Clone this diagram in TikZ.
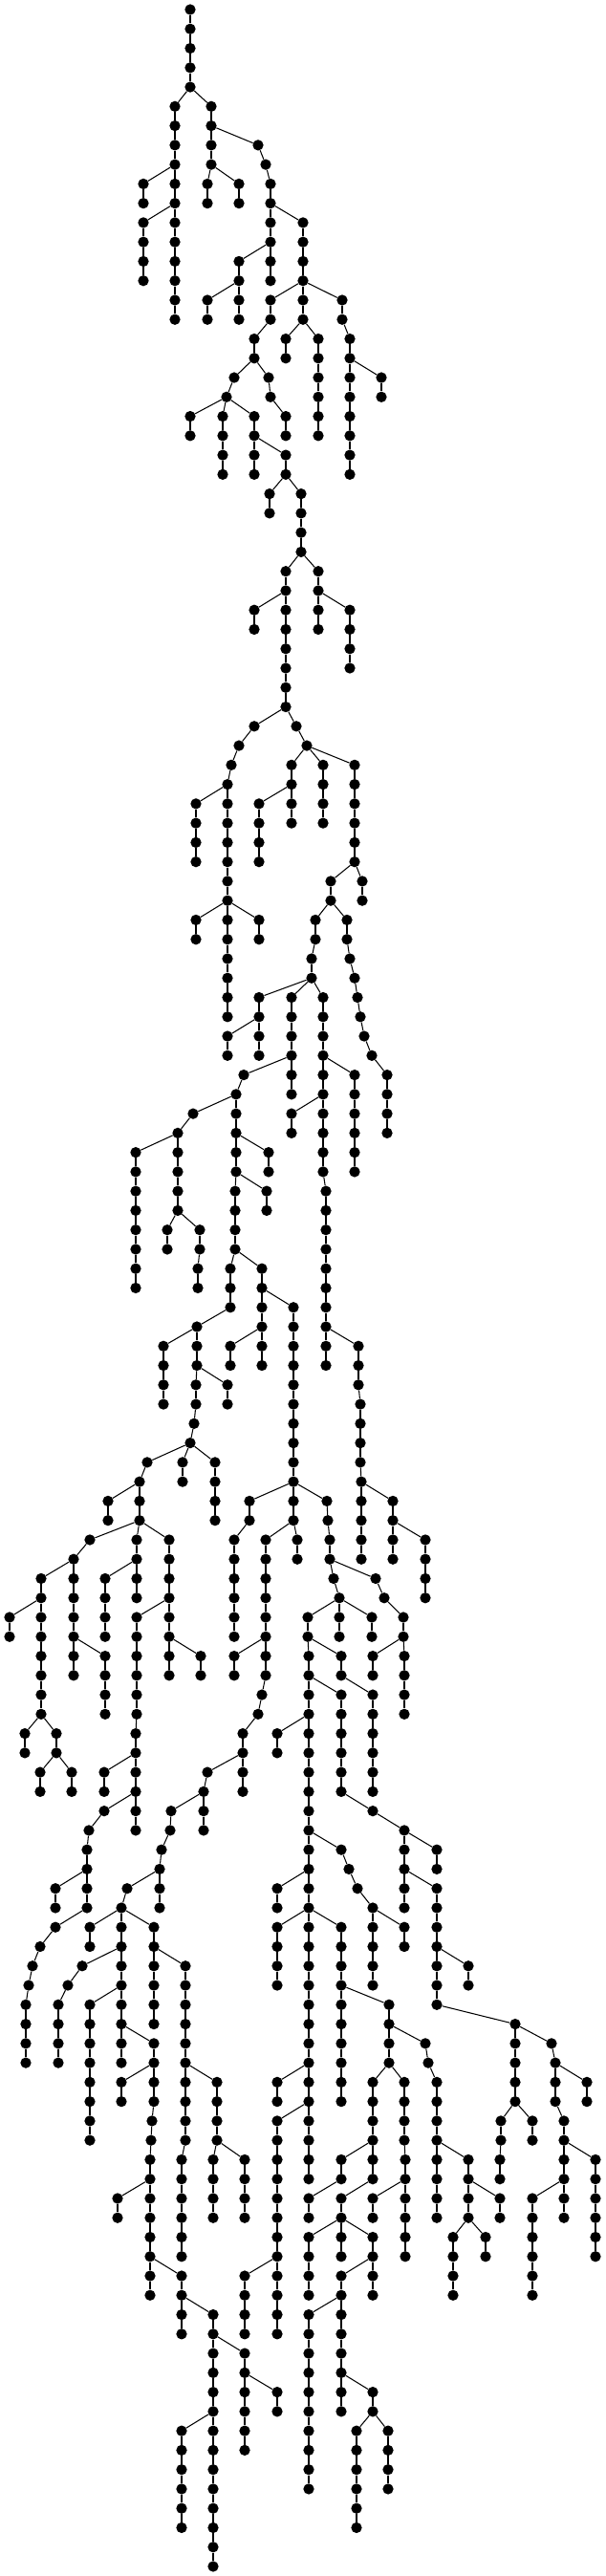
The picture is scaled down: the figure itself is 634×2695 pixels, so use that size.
\documentclass[tikz,border=0pt]{standalone}
\tikzset{
  dotnode/.style={circle,fill=black,draw=none,inner sep=0pt,minimum size=11.3pt},
  edgeline/.style={draw=black,line width=1.05pt}
}
% \ch{parent x}{first row}{x of each node on consecutive rows}: the parent is on the row above
\newcommand\ch[3]{%
  \foreach \x [remember=\x as \px (initially #1), count=\i from #2] in {#3}{%
    \pgfmathtruncatemacro\pr{\i-1}%
    \node[dotnode] (n\i x\x) at (\x,{-(10+20.265*\i)}) {};
    \draw[edgeline] (n\pr x\px) -- (n\i x\x);
  }%
}
\begin{document}
\begin{tikzpicture}[x=1pt,y=1pt]
\path[fill=white,use as bounding box] (0,0) rectangle (634,-2695);
\node[dotnode] (n0x199) at (199,-10) {};
\ch{199}{1}{199,199,199,199}
\ch{199}{5}{183,183,183,183,183,183,183,183,183,183,183,183}
\ch{183}{9}{150,150}
\ch{183}{11}{150,150,150,150}
\ch{199}{5}{221,221,221,221}
\ch{221}{9}{217,217}
\ch{221}{9}{250,250}
\ch{221}{7}{270,278,283,283,283,283,283,283}
\ch{283}{11}{317,317,317,317}
\ch{283}{13}{250,250}
\ch{250}{15}{217,217}
\ch{250}{15}{250,250}
\ch{317}{15}{283,283,266,266}
\ch{266}{19}{245,237}
\ch{237}{21}{199,199}
\ch{237}{21}{233,233,233,233}
\ch{237}{21}{266,266,266,266}
\ch{266}{19}{281,283,299,299}
\ch{266}{23}{299,299}
\ch{299}{25}{282,282}
\ch{299}{25}{315,315,315,315}
\ch{315}{29}{299,299,299,299,299,299,299,299}
\ch{299}{31}{266,266}
\ch{315}{29}{333,333,333,333}
\ch{333}{31}{366,366,366,366}
\ch{317}{15}{317,317}
\ch{317}{17}{299,299}
\ch{317}{17}{333,333,333,333,333,333}
\ch{317}{15}{358,358,366,366,366,366,366,366,366,366}
\ch{366}{19}{399,399}
\ch{299}{37}{266,250,242,238}
\ch{238}{41}{205,205,205,205}
\ch{238}{41}{238,238,238,238,238,238}
\ch{238}{47}{205,205}
\ch{238}{47}{271,271}
\ch{238}{47}{238,238,238,238,238,238}
\ch{299}{37}{310,321}
\ch{321}{39}{305,305,305,305}
\ch{305}{41}{271,271,271,271}
\ch{321}{39}{338,338,338,338}
\ch{321}{39}{371,371,371,371,371,371}
\ch{371}{45}{346,346}
\ch{371}{45}{379,379}
\ch{346}{47}{363,363,366,371,374,377,381,389,405,405,405,405}
\ch{346}{47}{330,330,326,326}
\ch{326}{51}{271,271,271,271}
\ch{271}{53}{238,238}
\ch{326}{51}{305,305,305,305,305,305}
\ch{305}{55}{255,247,247,247,247,247,246,246,246,246}
\ch{247}{57}{202,186,186,186,186,186}
\ch{186}{59}{142,142,142,142,142,142,142,142}
\ch{186}{63}{175,175}
\ch{186}{63}{209,209,207,207}
\ch{247}{59}{281,281}
\ch{247}{61}{279,279}
\ch{246}{65}{241,241,241}
\ch{241}{68}{206,206,206,205,205,203,199}
\ch{206}{69}{171,171,171,171}
\ch{206}{71}{238,238}
\ch{199}{75}{154,146,146,146}
\ch{146}{77}{113,113}
\ch{146}{79}{94,77,77,77,77,77,77,77}
\ch{77}{81}{43,43,43,43,43,43,43,43}
\ch{43}{83}{10,10}
\ch{43}{89}{26,26}
\ch{43}{89}{59,59}
\ch{59}{91}{42,42}
\ch{59}{91}{75,75}
\ch{77}{85}{110,110,110,110}
\ch{146}{79}{143,143,143,143}
\ch{143}{81}{110,110,110,110}
\ch{146}{79}{177,177,177,177,177,177,177,177}
\ch{177}{83}{143,143,143,143,143,143,142,142,142,142,142,142}
\ch{142}{91}{109,109}
\ch{142}{93}{109,93,91,91,91,91}
\ch{91}{97}{58,58}
\ch{91}{99}{58,42,34,30,27,27,27,27}
\ch{177}{85}{210,210}
\ch{199}{75}{191,191}
\ch{199}{75}{225,225,225,225}
\ch{246}{65}{274,274,274,274,274,274}
\ch{274}{67}{307,307,307,307,307,307,307,307,307,307}
\ch{274}{69}{241,241}
\ch{307}{77}{261,261,245,245,245,245,245,245}
\ch{307}{77}{307,307,311,311}
\ch{307}{79}{278,278,278,278,278,278}
\ch{278}{85}{245,245}
\ch{278}{85}{278,278,274,270,254,254,254,254}
\ch{254}{91}{217,213,213,213}
\ch{213}{93}{179,178,169,167,167,167}
\ch{167}{97}{133,127}
\ch{127}{99}{94,94}
\ch{127}{99}{127,127,127,127,127,127,127,127}
\ch{127}{101}{86,71,61,61,61,61}
\ch{127}{103}{94,94,94,94,94,94,94,94}
\ch{127}{105}{161,161}
\ch{161}{107}{127,127}
\ch{161}{107}{161,161,159,158,157,157,157,157,157,157,157,157}
\ch{157}{113}{123,123}
\ch{157}{117}{190,190}
\ch{190}{119}{190,190}
\ch{190}{119}{223,223,223,223,223,223,223,223,223,223,223,223,223,223}
\ch{223}{125}{190,190,190,190,190,190}
\ch{223}{121}{256,256,256,256,256,256}
\ch{256}{123}{290,290}
\ch{127}{99}{161,161,161,161,161,161}
\ch{161}{101}{194,194,194,194,194,194,194,194,194,194,190,190,190,190,190,190}
\ch{194}{107}{227,227,227,227,223,223,223,223}
\ch{227}{111}{256,256,256,256}
\ch{307}{77}{342,343,345,345}
\ch{345}{81}{349,355,355,355}
\ch{355}{83}{389,389}
\ch{355}{83}{322,322,323,323,323,323,323,323,323,323,323,323,323,323}
\ch{322}{85}{357,357}
\ch{357}{87}{390,390,390,390,390,390}
\ch{323}{87}{357,357,357,357,357,357,390,423,423,423,423,423}
\ch{423}{95}{457,457}
\ch{423}{97}{457,457,457,457,457,457,457}
\ch{457}{101}{490,490}
\ch{457}{104}{539,539,539,539,539}
\ch{539}{105}{577,581,581,581,590,590,590,590,590,590}
\ch{581}{107}{614,614}
\ch{590}{111}{623,623,623,623,623,623}
\ch{590}{113}{557,557,557,557,557,557}
\ch{539}{109}{524,524,523,523}
\ch{539}{109}{557,557}
\ch{323}{89}{290,290}
\ch{323}{95}{357,365,374,390,390,390,390,390}
\ch{390}{99}{423,423}
\ch{323}{97}{290,290}
\ch{323}{97}{323,323}
\ch{323}{99}{290,290,290,290}
\ch{323}{99}{357,357,357,357,357,357,357,357,357,357}
\ch{357}{103}{407,407,407,407}
\ch{407}{105}{445,448,457,457,457,457,457,457,457,457}
\ch{457}{111}{490,490,490,490}
\ch{490}{113}{523,523}
\ch{490}{115}{474,474,474,474}
\ch{490}{115}{508,508}
\ch{407}{107}{390,390,390,390,390,390}
\ch{390}{111}{357,357}
\ch{357}{113}{323,323}
\ch{390}{113}{357,357,357,357}
\ch{357}{115}{323,323,323,323}
\ch{357}{115}{390,390,390,390}
\ch{390}{117}{357,357,357,357,357,357,357,357}
\ch{357}{119}{323,323,323,323,323,323,323,323,323,323}
\ch{357}{123}{390,390}
\ch{390}{125}{373,373,373,373,373,373}
\ch{390}{125}{406,406,406,406}
\ch{407}{107}{423,423,423,423,424,424,424,424,424,424}
\ch{424}{113}{390,390}
\ch{323}{99}{323,323,323,323,323,323,323,323,323,323,323,323,323,323}
\ch{323}{107}{290,290}
\ch{323}{109}{290,290,290,290,290,290,290,290,290,290,290,290}
\ch{290}{117}{256,256,256,256}
\ch{326}{51}{338,338,338,338,338,338,338,338,338,338,341,341,341,341,341,341,341,341}
\ch{338}{55}{371,371,371,371,371,371}
\ch{338}{57}{305,305}
\ch{341}{69}{341,341}
\ch{341}{69}{375,375,375,377,377,377,377,378,378,378,378,378}
\ch{378}{77}{411,411,411,411}
\ch{411}{79}{445,445,445,445}
\ch{345}{81}{393,402,422,422}
\ch{422}{85}{390,390}
\ch{422}{85}{423,423,423,423}
\end{tikzpicture}
\end{document}
